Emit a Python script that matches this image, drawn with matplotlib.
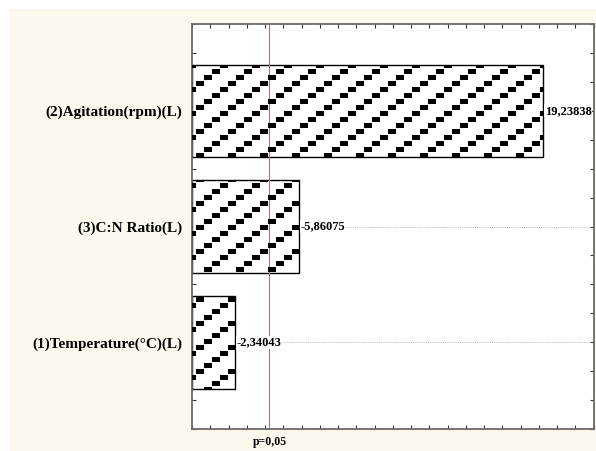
import numpy as np
import matplotlib
matplotlib.use("Agg")
import matplotlib.pyplot as plt
from matplotlib.patches import Rectangle
import matplotlib.transforms as mtransforms

# ---- data ----
effects = ["(1)Temperature(°C)(L)", "(3)C:N Ratio(L)", "(2)Agitation(rpm)(L)"]
values = [-2.34043, -5.86075, 19.23838]
p_crit = 4.24
p_label = "p=0,05"

FONT = "Liberation Serif"
W, H = 596, 451
fig = plt.figure(figsize=(W / 100, H / 100), dpi=100)
fig.patch.set_facecolor("white")
fig.patches.append(Rectangle((9 / W, 0), 1 - 9 / W, (H - 9) / H, transform=fig.transFigure,
                             facecolor="#fdf8ed", edgecolor="none", zorder=-10))

ax = fig.add_axes([192 / W, (H - 429) / H, 401.7 / W, 405 / H])
ax.set_facecolor("white")

ypos = np.arange(1, len(effects) + 1)
mags = np.abs(values)
bars = ax.barh(ypos, mags, height=0.8, left=0, color="white", edgecolor="black",
               linewidth=1.0, zorder=2)

ax.set_xlim(0, 22)
ax.set_ylim(0.25, 3.75)

# critical value line
ax.axvline(p_crit, color="#e25a5f", lw=0.8, zorder=3)
blend = mtransforms.blended_transform_factory(ax.transData, ax.transAxes)
ax.text(p_crit, -0.018, p_label, transform=blend, ha="center", va="top",
        fontfamily=FONT, fontweight="bold", fontsize=8.5)

# value labels + dotted guide lines
for y, m, v in zip(ypos, mags, values):
    ax.plot([m, 22], [y, y], color="#b8b8b8", lw=0.7, ls=(0, (1, 1.2)), zorder=1)
    txt = ("%.5f" % v).replace(".", ",")
    ax.text(m + 0.08, y, txt, ha="left", va="center", fontfamily=FONT,
            fontweight="bold", fontsize=9, zorder=4,
            bbox=dict(facecolor="white", edgecolor="none", pad=0.3))

# ticks
ax.set_xticks(np.arange(0, 23, 1))
ax.set_xticklabels([])
yt = np.arange(0.25, 3.76, 0.25)
ax.set_yticks(yt)
lab = {1.0: effects[0], 2.0: effects[1], 3.0: effects[2]}
ax.set_yticklabels([lab.get(round(t, 2), "") for t in yt], fontfamily=FONT,
                   fontweight="bold", fontsize=11)
ax.tick_params(axis="both", direction="in", length=3, width=0.8, color="#333333",
               top=True, right=True, pad=7)
for s in ax.spines.values():
    s.set_color("#6a6a6a")
    s.set_linewidth(1.3)
    s.set_zorder(5)

# stair-step diagonal texture, clipped to each bar
yy, xx = np.mgrid[0:H, 0:W]
step = np.floor((xx - 196) / 8)
mask = ((yy - 81 + 6 * step) % 24) < 5
tex = np.zeros((H, W, 4))
tex[..., 3] = mask.astype(float)
for b in bars:
    im = fig.figimage(tex, 0, 0, origin="upper", zorder=1)
    im.set_clip_path(b)

fig.savefig("out.png", dpi=100)
